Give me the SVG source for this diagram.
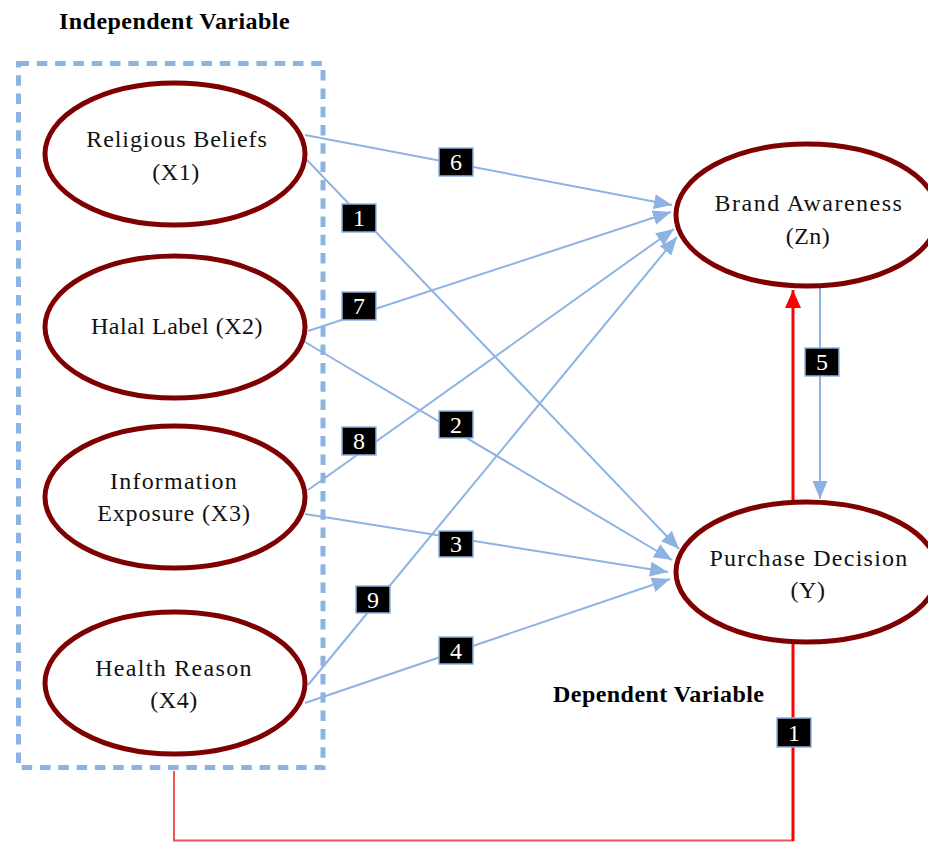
<svg xmlns="http://www.w3.org/2000/svg" width="928" height="842" viewBox="0 0 928 842">
<style>
.node ellipse{fill:#fff;stroke:#7f0000;stroke-width:5}
.nt{font-family:"Liberation Serif","Times New Roman",Times,serif;font-size:24px;fill:#111;text-anchor:middle;letter-spacing:0.5px}
.head{font-family:"Liberation Serif","Times New Roman",Times,serif;font-size:24px;font-weight:bold;fill:#000;letter-spacing:0.45px}
.blue{stroke:#8db3e2;stroke-width:2;fill:none}
.lbl rect{fill:#000;stroke:#8db3e2;stroke-width:1.5}
.lbl text{font-family:"Liberation Serif","Times New Roman",Times,serif;font-size:24px;fill:#fff;text-anchor:middle}
</style>
<defs>
<marker id="ab" markerUnits="userSpaceOnUse" markerWidth="18" markerHeight="15" refX="18" refY="7.5" orient="auto">
<path d="M0,0 L18,7.5 L0,15 z" fill="#8db3e2"/>
</marker>
<marker id="ar" markerUnits="userSpaceOnUse" markerWidth="18" markerHeight="16" refX="18" refY="8" orient="auto">
<path d="M0,0 L18,8 L0,16 z" fill="#ff0000"/>
</marker>
</defs>
<rect width="928" height="842" fill="#fff"/>
<text class="head" x="59" y="29">Independent Variable</text>
<text class="head" x="553" y="702">Dependent Variable</text>
<rect x="18.5" y="63.5" width="304.5" height="704" fill="none" stroke="#8db3e2" stroke-width="5" stroke-dasharray="10.5 7.8"/>
<g id="connectors">
<line class="blue" x1="305" y1="135" x2="672" y2="205" marker-end="url(#ab)"/>
<line class="blue" x1="307" y1="160" x2="679" y2="549" marker-end="url(#ab)"/>
<line class="blue" x1="308" y1="331" x2="671" y2="212" marker-end="url(#ab)"/>
<line class="blue" x1="305" y1="342" x2="672" y2="560" marker-end="url(#ab)"/>
<line class="blue" x1="308" y1="490" x2="674" y2="229" marker-end="url(#ab)"/>
<line class="blue" x1="305" y1="514" x2="668" y2="572" marker-end="url(#ab)"/>
<line class="blue" x1="308" y1="685" x2="677" y2="237" marker-end="url(#ab)"/>
<line class="blue" x1="305" y1="703" x2="670" y2="579" marker-end="url(#ab)"/>
<line class="blue" x1="820" y1="287" x2="820" y2="499" marker-end="url(#ab)"/>
<polyline points="174,771 174,840.5 793,840.5" fill="none" stroke="#ee5555" stroke-width="2"/>
<line x1="793" y1="841" x2="793" y2="290" stroke="#ff0000" stroke-width="3" marker-end="url(#ar)"/>
</g>
<g id="labels">
<g class="lbl"><rect x="439" y="148" width="34" height="28"/><text x="456" y="170">6</text></g>
<g class="lbl"><rect x="342" y="204" width="34" height="28"/><text x="359" y="226">1</text></g>
<g class="lbl"><rect x="342" y="292" width="34" height="28"/><text x="359" y="314">7</text></g>
<g class="lbl"><rect x="439" y="411" width="34" height="27"/><text x="456" y="433">2</text></g>
<g class="lbl"><rect x="342" y="427" width="34" height="28"/><text x="359" y="449">8</text></g>
<g class="lbl"><rect x="439" y="531" width="34" height="26"/><text x="456" y="552">3</text></g>
<g class="lbl"><rect x="356" y="586" width="34" height="27"/><text x="373" y="608">9</text></g>
<g class="lbl"><rect x="439" y="637" width="34" height="27"/><text x="456" y="659">4</text></g>
<g class="lbl"><rect x="805" y="348" width="34" height="28"/><text x="822" y="370">5</text></g>
<g class="lbl"><rect x="777" y="718" width="34" height="29"/><text x="794" y="741">1</text></g>
</g>
<g id="x1" class="node"><ellipse cx="175" cy="154" rx="130" ry="71"/><text class="nt" x="177" y="147" style="letter-spacing:0.9px">Religious Beliefs</text><text class="nt" x="176" y="180">(X1)</text></g>
<g id="x2" class="node"><ellipse cx="175" cy="327" rx="130" ry="71"/><text class="nt" x="177" y="334">Halal Label (X2)</text></g>
<g id="x3" class="node"><ellipse cx="175" cy="497" rx="130" ry="71"/><text class="nt" x="174" y="489" style="letter-spacing:1.2px">Information</text><text class="nt" x="174" y="521" style="letter-spacing:0.9px">Exposure (X3)</text></g>
<g id="x4" class="node"><ellipse cx="175" cy="683" rx="130" ry="71"/><text class="nt" x="174" y="676" style="letter-spacing:1.3px">Health Reason</text><text class="nt" x="174" y="708">(X4)</text></g>
<g id="zn" class="node"><ellipse cx="807" cy="215" rx="131" ry="71"/><text class="nt" x="809" y="211" style="letter-spacing:1.5px">Brand Awareness</text><text class="nt" x="808" y="244">(Zn)</text></g>
<g id="y" class="node"><ellipse cx="807" cy="572" rx="131" ry="70"/><text class="nt" x="809" y="566" style="letter-spacing:1.25px">Purchase Decision</text><text class="nt" x="808" y="598">(Y)</text></g>
</svg>
